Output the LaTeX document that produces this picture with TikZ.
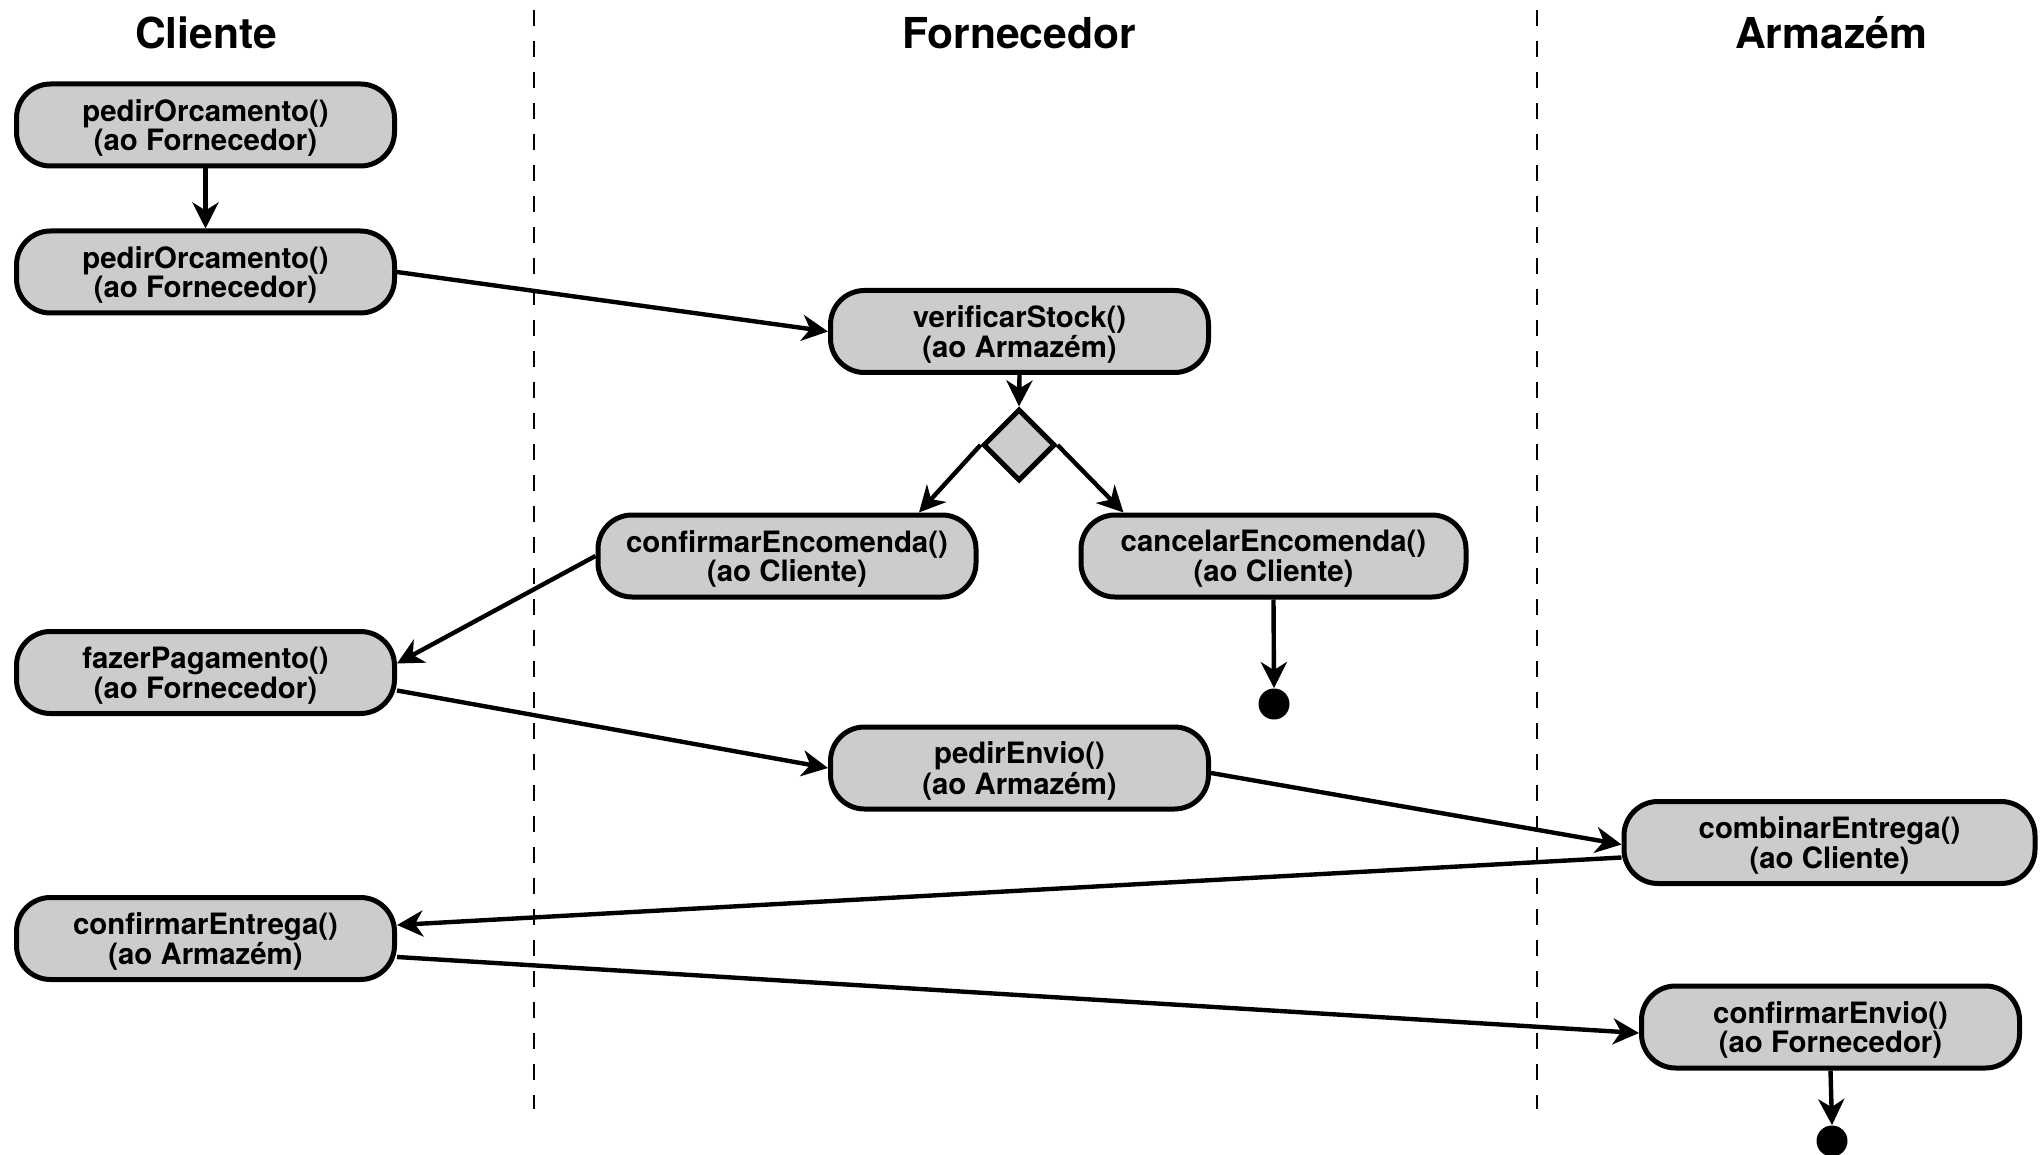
\documentclass[tikz,border=0pt]{standalone}
\usepackage{fontspec}
\setmainfont{TeX Gyre Heros}
\usetikzlibrary{arrows.meta,shapes.geometric,calc}
\definecolor{actfill}{HTML}{CCCCCC}
\begin{document}
\begin{tikzpicture}[x=0.5pt,y=-0.5pt,
  activity/.style={draw=black, line width=2.5pt, fill=actfill, rounded corners=17pt,
    minimum width=189pt, minimum height=41pt, align=center, inner sep=0pt,
    text depth=0pt, font=\bfseries\fontsize{14.7}{11.6}\selectfont},
  decision/.style={draw=black, line width=2.5pt, fill=actfill, diamond, aspect=1,
    minimum size=36pt, inner sep=0pt},
  final/.style={circle, fill=black, minimum size=15.5pt, inner sep=0pt},
  lane/.style={font=\bfseries\fontsize{21.3}{24}\selectfont},
  flow/.style={line width=2.2pt, -{Stealth[length=13pt,width=13pt,inset=4pt]}},
  lanesep/.style={line width=1pt, dash pattern=on 8pt off 7.5pt}]
\useasboundingbox (0,0) rectangle (2041,1155);

% swimlane headers and separators
\node[lane] (hCli) at (206,33) {Cliente};
\node[lane] (hFor) at (1019,33) {Fornecedor};
\node[lane] (hArm) at (1831,33) {Armazém};
\draw[lanesep] (534,10) -- (534,1109);
\draw[lanesep] (1537,10) -- (1537,1109);

% activities
\node[activity] (po1) at (205.5,125) {pedirOrcamento()\\(ao Fornecedor)};
\node[activity] (po2) at (205.5,272) {pedirOrcamento()\\(ao Fornecedor)};
\node[activity] (vs)  at (1019.5,331.5) {verificarStock()\\(ao Armazém)};
\node[decision] (dec) at (1019,445) {};
\node[activity] (ce)  at (787,556) {confirmarEncomenda()\\(ao Cliente)};
\node[activity, minimum width=192.5pt] (ca) at (1273.5,556) {cancelarEncomenda()\\(ao Cliente)};
\node[final] (end1) at (1274,704) {};
\node[activity] (fp)  at (205.5,672.5) {fazerPagamento()\\(ao Fornecedor)};
\node[activity] (pe)  at (1019.5,768) {pedirEnvio()\\(ao Armazém)};
\node[activity, minimum width=205.5pt] (cb) at (1829.5,842.5) {combinarEntrega()\\(ao Cliente)};
\node[activity] (cen) at (205.5,938.5) {confirmarEntrega()\\(ao Armazém)};
\node[activity] (cev) at (1830.5,1027) {confirmarEnvio()\\(ao Fornecedor)};
\node[final] (end2) at (1832,1141) {};

% control flow
\draw[flow] (po1.south) -- (po2.north);
\draw[flow] (po2.east) -- (vs.west);
\draw[flow] (vs.south) -- (dec.north);
\draw[flow] (dec.west) -- ($(ce.north)+(132,0)$);
\draw[flow] (dec.east) -- ($(ca.north)+(-150,0)$);
\draw[flow] (ca.south) -- (end1.north);
\draw[flow] (ce.west) -- ($(fp.east)+(0,-9)$);
\draw[flow] ($(fp.east)+(0,18)$) -- (pe.west);
\draw[flow] ($(pe.east)+(0,5)$) -- ($(cb.west)+(0,2)$);
\draw[flow] ($(cb.west)+(0,15)$) -- ($(cen.east)+(0,-13.5)$);
\draw[flow] ($(cen.east)+(0,18.5)$) -- ($(cev.west)+(0,6)$);
\draw[flow] (cev.south) -- (end2.north);
\end{tikzpicture}
\end{document}
